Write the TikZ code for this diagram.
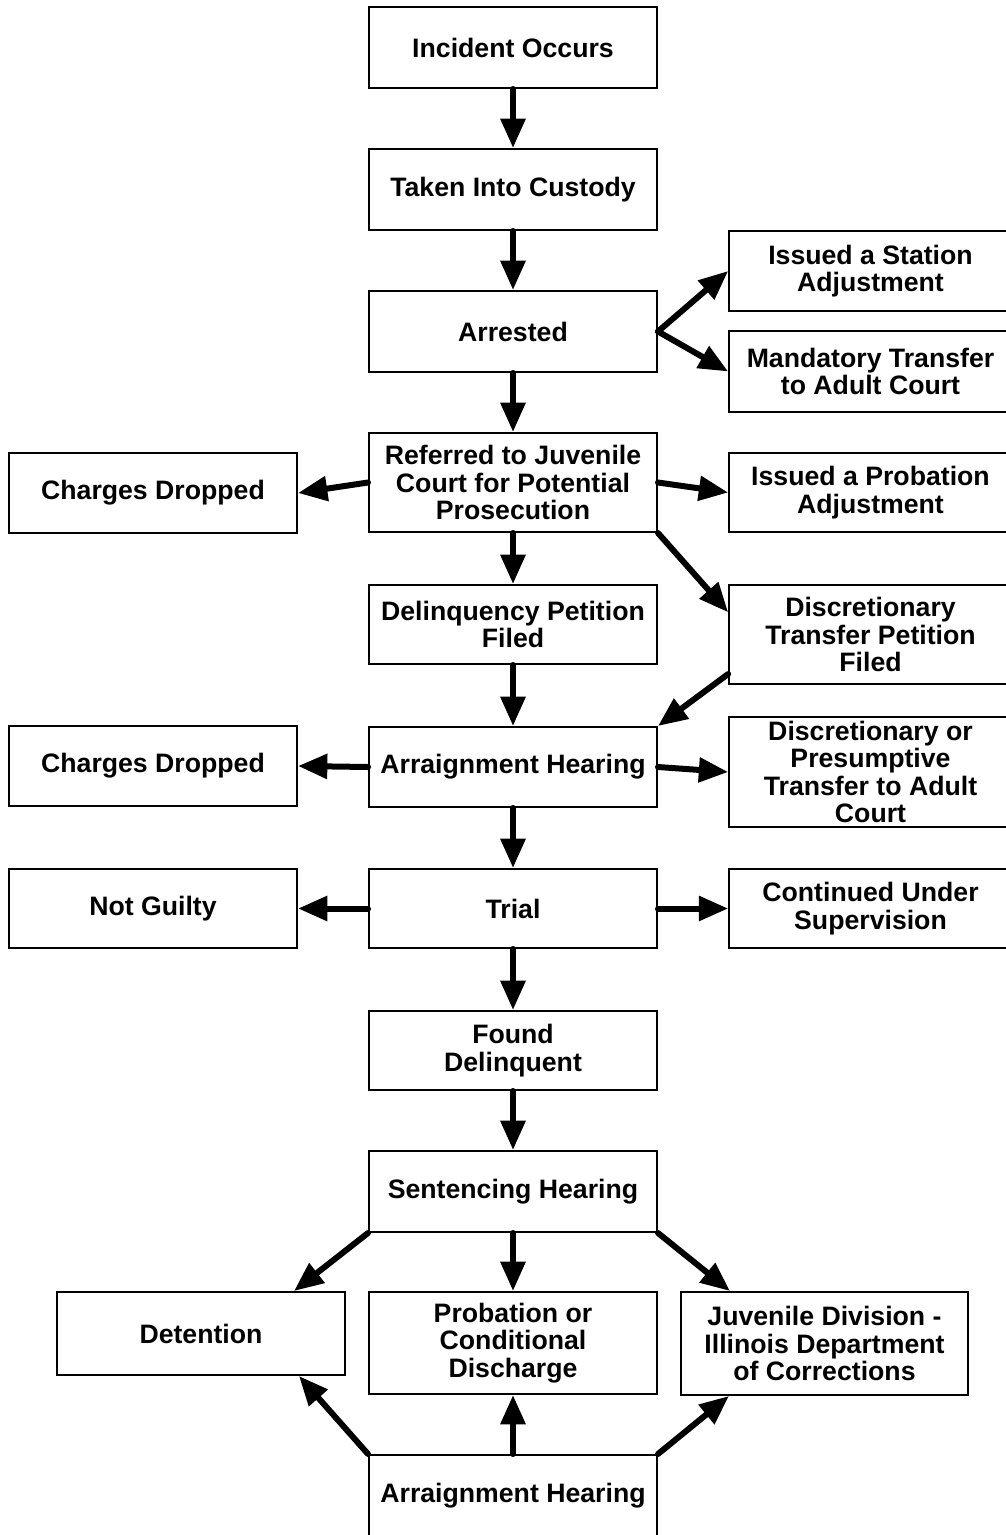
\documentclass[tikz,border=0pt]{standalone}
\usepackage{fontspec}
\setmainfont{Liberation Sans}
\usepackage{tikz}
\usetikzlibrary{arrows.meta, positioning, calc}
\tikzstyle{stagenode} = [draw, rectangle, line width=1.5pt, inner sep=0pt, align=center, minimum width=216pt, minimum height=60pt, font=\bfseries\fontsize{20}{20.5}\selectfont]
\tikzstyle{sidenode} = [stagenode, minimum width=212pt]
\tikzstyle{arrw} = [line width=4.5pt, line cap=round, -{Triangle[length=22pt, width=18pt]}]

\begin{document}
\begin{tikzpicture}[x=0.75pt, y=0.75pt]
    \path[use as bounding box, clip] (0,0) rectangle (1006,-1535);

    % Main column
    \node (incident) [stagenode, minimum height=60.75pt] at (513,-47.5) {Incident Occurs};
    \node (custody) [stagenode, minimum height=60.75pt] at (513,-189.5) {Taken Into Custody};
    \node (arrested) [stagenode, minimum height=60.75pt] at (513,-331.5) {Arrested};
    \node (referred) [stagenode, minimum height=74.25pt] at (513,-482.5) {Referred to Juvenile\\Court for Potential\\Prosecution};
    \node (petition) [stagenode, minimum height=59.25pt] at (513,-624.5) {Delinquency Petition\\Filed};
    \node (arraign) [stagenode] at (513,-767) {Arraignment Hearing};
    \node (trial) [stagenode, minimum height=59.25pt] at (513,-908.5) {Trial};
    \node (delinquent) [stagenode, minimum height=59.25pt] at (513,-1050.5) {Found\\Delinquent};
    \node (sentencing) [stagenode, minimum height=60.75pt] at (513,-1191.5) {Sentencing Hearing};

    % Right column
    \node (station) [sidenode] at (870.5,-271) {Issued a Station\\Adjustment};
    \node (mandatory) [sidenode, minimum height=60.75pt] at (870.5,-371.5) {Mandatory Transfer\\to Adult Court};
    \node (probadj) [sidenode, minimum height=59.25pt] at (870.5,-492.5) {Issued a Probation\\Adjustment};
    \node (disctrans) [sidenode, minimum height=74.25pt] at (870.5,-634.5) {Discretionary\\Transfer Petition\\Filed};
    \node (presump) [sidenode, minimum height=82.5pt] at (870.5,-772) {Discretionary or\\Presumptive\\Transfer to Adult\\Court};
    \node (continued) [sidenode, minimum height=59.25pt] at (870.5,-908.5) {Continued Under\\Supervision};

    % Left column
    \node (dropA) [stagenode] at (153,-493) {Charges Dropped};
    \node (dropB) [stagenode] at (153,-766) {Charges Dropped};
    \node (notguilty) [stagenode, minimum height=59.25pt] at (153,-908.5) {Not Guilty};

    % Outcomes
    \node (detention) [stagenode, minimum height=62.25pt] at (201,-1333.5) {Detention};
    \node (probation) [stagenode, minimum height=76.5pt] at (513,-1343) {Probation or\\Conditional\\Discharge};
    \node (idoc) [stagenode, minimum width=215.25pt, minimum height=77.25pt] at (824.5,-1343.5) {Juvenile Division -\\Illinois Department\\of Corrections};
    \node (arraignB) [stagenode, minimum height=61.5pt] at (513,-1496) {Arraignment Hearing};

    % Connectors
    \draw [arrw] (incident.south) -- (custody.north);
    \draw [arrw] (custody.south) -- (arrested.north);
    \draw [arrw] (arrested.east) -- (station.west);
    \draw [arrw] (arrested.east) -- (mandatory.west);
    \draw [arrw] (arrested.south) -- (referred.north);
    \draw [arrw] (referred.west) -- (dropA.east);
    \draw [arrw] (referred.east) -- (probadj.west);
    \draw [arrw] (referred.south) -- (petition.north);
    \draw [arrw] (referred.south east) -- ($(disctrans.north west)!0.28!(disctrans.south west)$);
    \draw [arrw] ($(disctrans.south west)+(0,11)$) -- (arraign.north east);
    \draw [arrw] (petition.south) -- (arraign.north);
    \draw [arrw] (arraign.west) -- (dropB.east);
    \draw [arrw] (arraign.east) -- (presump.west);
    \draw [arrw] (arraign.south) -- (trial.north);
    \draw [arrw] (trial.west) -- (notguilty.east);
    \draw [arrw] (trial.east) -- (continued.west);
    \draw [arrw] (trial.south) -- (delinquent.north);
    \draw [arrw] (delinquent.south) -- (sentencing.north);
    \draw [arrw] (sentencing.south west) -- ($(detention.north east)+(-52,0)$);
    \draw [arrw] (sentencing.south) -- (probation.north);
    \draw [arrw] (sentencing.south east) -- ($(idoc.north west)+(50,0)$);
    \draw [arrw] (arraignB.north west) -- ($(detention.south east)+(-47,0)$);
    \draw [arrw] (arraignB.north) -- (probation.south);
    \draw [arrw] (arraignB.north east) -- ($(idoc.south west)+(49,0)$);
\end{tikzpicture}
\end{document}
